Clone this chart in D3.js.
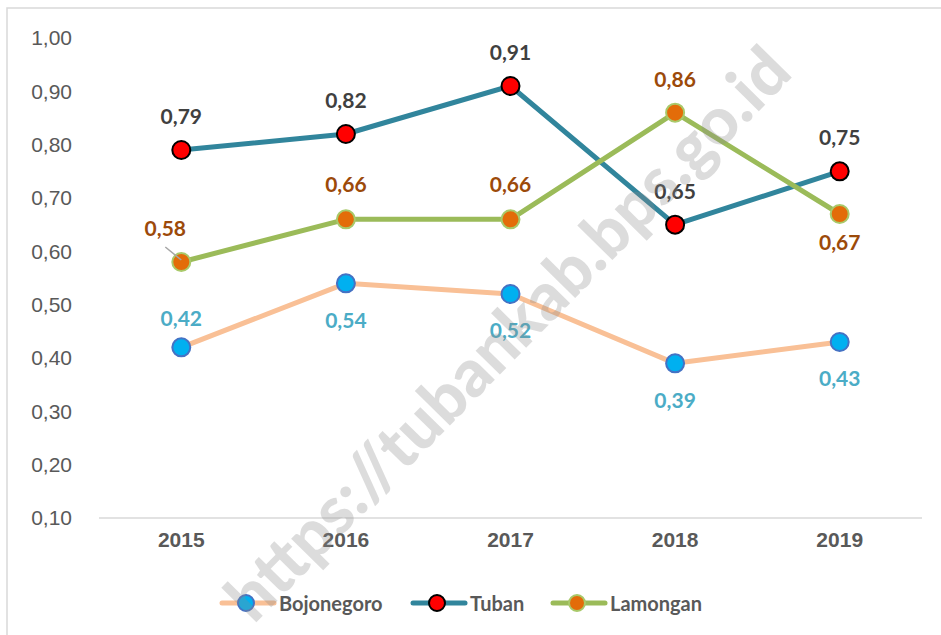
<!DOCTYPE html>
<html lang="en">
<head>
<meta charset="utf-8">
<script src="https://d3js.org/d3.v7.min.js"></script>
<style>
  body { margin: 0; background: #fff; }
  svg { font-family: Lato, "Open Sans", sans-serif; }
</style>
</head>
<body>
<div id="chart"></div>
<script>
// data
var years = ["2015", "2016", "2017", "2018", "2019"];
var bojonegoro = [0.42, 0.54, 0.52, 0.39, 0.43];
var tuban = [0.79, 0.82, 0.91, 0.65, 0.75];
var lamongan = [0.58, 0.66, 0.66, 0.86, 0.67];
var yTicks = [0.1, 0.2, 0.3, 0.4, 0.5, 0.6, 0.7, 0.8, 0.9, 1.0];

// label baseline offset from the marker (negative = above)
var labelDy = {
  Bojonegoro: [-21, 45, 44, 45, 44],
  Tuban: [-26, -26, -26, -26, -26],
  Lamongan: [-26, -27, -27, -26, 36]
};

var series = [
  {name: "Bojonegoro", values: bojonegoro, line: "#F9C096", fill: "#00B0F0", stroke: "#4472C4", label: "#4BACC6"},
  {name: "Tuban", values: tuban, line: "#31859C", fill: "#FF0000", stroke: "#000000", label: "#404040"},
  {name: "Lamongan", values: lamongan, line: "#9BBB59", fill: "#E36C09", stroke: "#A9C96A", label: "#9C4A0A"}
];

var W = 941, H = 635;
var svg = d3.select("#chart").append("svg")
  .attr("width", W).attr("height", H);

// chart frame
svg.append("rect")
  .attr("x", 7).attr("y", 8)
  .attr("width", W + 20).attr("height", H + 20)
  .attr("fill", "none")
  .attr("stroke", "#d9d9d9")
  .attr("stroke-width", 1.5);

var x = d3.scaleBand().domain(years).range([99, 922]);
var y = d3.scaleLinear().domain([0.1, 1.0]).range([518, 38]);
var fmt = function(v) { return d3.format(".2f")(v).replace(".", ","); };

// y axis labels
var yAxis = svg.append("g")
  .attr("transform", "translate(84,0)")
  .call(d3.axisLeft(y).tickValues(yTicks).tickFormat(fmt).tickSize(0).tickPadding(12));
yAxis.select(".domain").remove();
yAxis.selectAll("text")
  .attr("fill", "#595959")
  .style("font-size", "21px");

// baseline
svg.append("line")
  .attr("x1", x.range()[0]).attr("x2", x.range()[1])
  .attr("y1", y(0.1)).attr("y2", y(0.1))
  .attr("stroke", "#d9d9d9").attr("stroke-width", 1.5);

// x axis labels
var xAxis = svg.append("g")
  .attr("transform", "translate(0," + y(0.1) + ")")
  .call(d3.axisBottom(x).tickSize(0).tickPadding(14));
xAxis.select(".domain").remove();
xAxis.selectAll("text")
  .attr("fill", "#595959")
  .style("font-size", "21px")
  .style("font-weight", "bold");

var cx = function(i) { return x(years[i]) + x.bandwidth() / 2; };

var line = d3.line()
  .x(function(d, i) { return cx(i); })
  .y(function(d) { return y(d); });

series.forEach(function(s) {
  svg.append("path")
    .datum(s.values)
    .attr("fill", "none")
    .attr("stroke", s.line)
    .attr("stroke-width", 5)
    .attr("stroke-linejoin", "round")
    .attr("d", line);
});

series.forEach(function(s) {
  svg.append("g").selectAll("circle")
    .data(s.values)
    .enter().append("circle")
    .attr("cx", function(d, i) { return cx(i); })
    .attr("cy", function(d) { return y(d); })
    .attr("r", 9)
    .attr("fill", s.fill)
    .attr("stroke", s.stroke)
    .attr("stroke-width", 2);
});

// data labels
series.forEach(function(s) {
  var dy = labelDy[s.name];
  svg.append("g").selectAll("text")
    .data(s.values)
    .enter().append("text")
    .attr("x", function(d, i) {
      return cx(i) + (s.name === "Lamongan" && i === 0 ? -16 : 0);
    })
    .attr("y", function(d, i) { return y(d) + dy[i]; })
    .attr("text-anchor", "middle")
    .attr("fill", s.label)
    .style("font-size", "21px")
    .style("font-weight", "bold")
    .text(fmt);
});

// leader line for Lamongan 2015
svg.append("line")
  .attr("x1", cx(0) - 16).attr("y1", y(lamongan[0]) - 15)
  .attr("x2", cx(0)).attr("y2", y(lamongan[0]) - 2)
  .attr("stroke", "#a6a6a6").attr("stroke-width", 1.5);

// legend
var legendX = [222, 413, 553];
var leg = svg.append("g");
series.forEach(function(s, i) {
  var g = leg.append("g").attr("transform", "translate(" + legendX[i] + ",603)");
  g.append("line")
    .attr("x1", 0).attr("x2", 52)
    .attr("stroke", s.line).attr("stroke-width", 5)
    .attr("stroke-linecap", "round");
  g.append("circle")
    .attr("cx", 24).attr("r", 8)
    .attr("fill", s.fill).attr("stroke", s.stroke).attr("stroke-width", 2);
  g.append("text")
    .attr("x", 57).attr("y", 7.5)
    .attr("fill", "#595959")
    .style("font-size", "20px")
    .style("font-weight", "bold")
    .text(s.name);
});

// watermark
svg.append("text")
  .attr("transform", "translate(512,338) rotate(-45.5)")
  .attr("text-anchor", "middle")
  .attr("dominant-baseline", "middle")
  .attr("fill", "#8c8c8c")
  .attr("fill-opacity", 0.3)
  .style("font-size", "66px")
  .style("font-weight", "900")
  .text("https://tubankab.bps.go.id");
</script>
</body>
</html>
